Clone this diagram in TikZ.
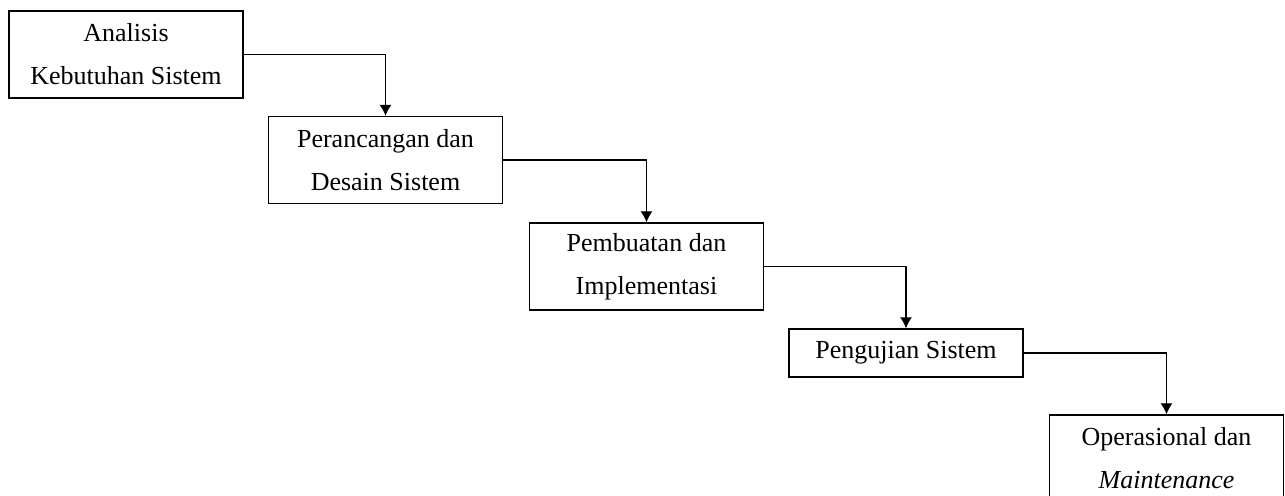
\documentclass[tikz,border=0pt]{standalone}
\usepackage{fontspec}
\setmainfont{Liberation Serif}
\usetikzlibrary{arrows.meta}

\begin{document}
\begin{tikzpicture}[x=0.5pt, y=-0.5pt,
		tahap/.style={draw, line width=0.7pt, minimum width=117pt, minimum height=43.5pt, inner sep=0pt, align=center, font=\fontsize{13}{21.5}\selectfont},
		alur/.style={line width=0.6pt, -{Latex[length=5.5pt,width=6pt]}}]
			%%%%% START %%%%%
			
			\useasboundingbox (0, 0) rectangle (1285, 495);
			
			\node[tahap] (analisis) at (126, 54.5) {Analisis\\Kebutuhan Sistem};
			\node[tahap] (desain) at (385.5, 160) {Perancangan dan\\Desain Sistem};
			\node[tahap] (implementasi) at (646.5, 266.5) {Pembuatan dan\\Implementasi};
			\node[tahap, minimum height=24pt] (pengujian) at (906, 353) {Pengujian Sistem};
			\node[tahap] (operasional) at (1166.5, 458.5) {Operasional dan\\\textit{Maintenance}};
			
			\draw[alur] (analisis.east) -| (desain.north);
			\draw[alur] (desain.east) -| (implementasi.north);
			\draw[alur] (implementasi.east) -| (pengujian.north);
			\draw[alur] (pengujian.east) -| (operasional.north);
			
			%%%%% END %%%%%
		\end{tikzpicture}
\end{document}
